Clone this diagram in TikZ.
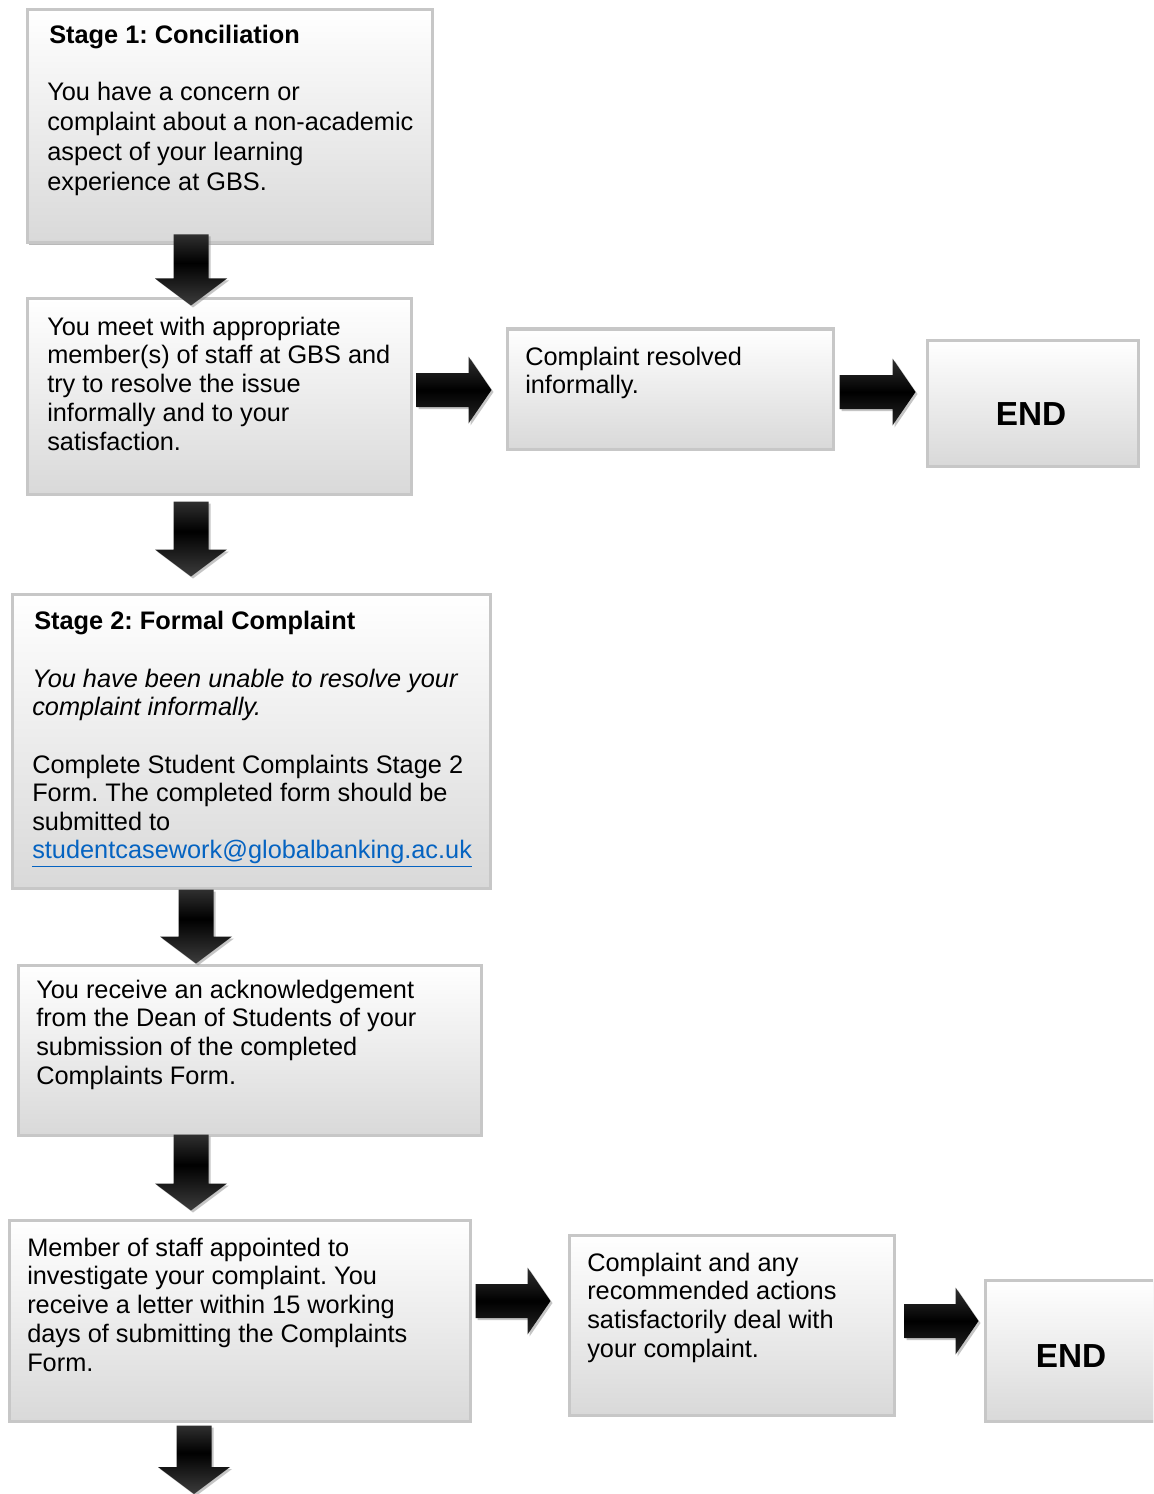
\documentclass[tikz,border=0pt]{standalone}
\usepackage{fontspec}
\setmainfont{Liberation Sans}
\frenchspacing
\usetikzlibrary{fit,shadows,calc}
\definecolor{linkblue}{RGB}{5,99,193}
\pgfdeclareverticalshading{downshade}{100bp}{color(0bp)=(black!66); color(22bp)=(black!74); color(55bp)=(black); color(100bp)=(black!58)}
\pgfdeclareverticalshading{rightshade}{100bp}{color(0bp)=(black!70); color(50bp)=(black); color(100bp)=(black!62)}
\tikzset{
  box/.style={draw=black!22, line width=2.25pt, top color=white, bottom color=black!15,
    inner sep=0pt, drop shadow={shadow xshift=1.5pt, shadow yshift=-1.8pt, fill=black!50, opacity=0.55}},
  txt/.style={font=\fontsize{19}{21.6}\selectfont, align=left, anchor=north west, inner sep=0pt},
  hdr/.style={txt, font=\fontsize{19}{21.6}\selectfont\bfseries},
  endtxt/.style={font=\fontsize{25}{30}\selectfont\bfseries, inner sep=0pt},
  darrow/.style={shading=downshade,
    drop shadow={shadow xshift=1.5pt, shadow yshift=-1.5pt, fill=black!45, opacity=0.5}},
  rarrow/.style={shading=rightshade,
    drop shadow={shadow xshift=1.5pt, shadow yshift=-1.5pt, fill=black!45, opacity=0.5}},
}
% #1 x (px), #2 from point, #3 tail shift down (px), #4 to point, #5 tip shift down (px)
\newcommand\downarr[5]{%
  \shade[darrow] let \p1=(#2), \p2=(#4), \p3=(#1,0) in
    ({\x3-13.125pt},{\y1-(#3)*0.75pt}) -- ({\x3+13.125pt},{\y1-(#3)*0.75pt})
    -- ({\x3+13.125pt},{\y2-(#5)*0.75pt+20.25pt}) -- ({\x3+27pt},{\y2-(#5)*0.75pt+20.25pt})
    -- ({\x3},{\y2-(#5)*0.75pt}) -- ({\x3-27pt},{\y2-(#5)*0.75pt+20.25pt})
    -- ({\x3-13.125pt},{\y2-(#5)*0.75pt+20.25pt}) -- cycle;}
% #1 y (px), #2 from point, #3 tail shift right (px), #4 to point, #5 tip shift right (px)
\newcommand\rightarr[5]{%
  \shade[rarrow] let \p1=(#2), \p2=(#4), \p3=(0,#1) in
    ({\x1+(#3)*0.75pt},{\y3+12.75pt}) -- ({\x2+(#5)*0.75pt-17.25pt},{\y3+12.75pt})
    -- ({\x2+(#5)*0.75pt-17.25pt},{\y3+25.125pt}) -- ({\x2+(#5)*0.75pt},{\y3})
    -- ({\x2+(#5)*0.75pt-17.25pt},{\y3-25.125pt}) -- ({\x2+(#5)*0.75pt-17.25pt},{\y3-12.75pt})
    -- ({\x1+(#3)*0.75pt},{\y3-12.75pt}) -- cycle;}
\begin{document}
\begin{tikzpicture}[x=0.75pt, y=-0.75pt]
\useasboundingbox (0,0) rectangle (1153,1494);
\fill[white] (0,0) rectangle (1153,1494);
\clip (0,0) rectangle (1153,1494);

% boxes
\node[box, fit={(27,10) (432,243)}] (b1) {};
\node[box, fit={(27,299) (411,494)}] (b2) {};
\node[box, fit={(507,329) (833,449)}] (b3) {};
\node[box, fit={(927,340) (1138,466)}] (e1) {};
\node[box, fit={(12,594) (490,888)}] (b5) {};
\node[box, fit={(18,965) (481,1135)}] (b6) {};
\node[box, fit={(9,1220) (470,1421)}] (b7) {};
\node[box, fit={(569,1235) (894,1415)}] (b8) {};
\node[box, fit={(985,1280) (1175,1421)}] (e2) {};
\coordinate (bottomend) at (194,1494);

% texts
\node[hdr] (t1h) at (49,24.5) {Stage 1: Conciliation};
\node[txt, font=\fontsize{19}{22.5}\selectfont] (t1) at (47,81.5) {You have a concern or\\complaint about a non-academic\\aspect of your learning\\experience at GBS.};
\node[txt] (t2) at (47,316.5) {You meet with appropriate\\member(s) of staff at GBS and\\try to resolve the issue\\informally and to your\\satisfaction.};
\node[txt] (t3) at (525,346.5) {Complaint resolved\\informally.};
\node[endtxt] (te1) at (1031,414) {END};
\node[hdr] (t5h) at (34,610.5) {Stage 2: Formal Complaint};
\node[txt, font=\fontsize{19}{21.4}\selectfont\itshape] (t5i) at (32,668.5) {You have been unable to resolve your\\complaint informally.};
\node[txt, font=\fontsize{19}{21.4}\selectfont] (t5) at (32,754.5) {Complete Student Complaints Stage 2\\Form. The completed form should be\\submitted to\\{\color{linkblue}\underline{studentcasework@globalbanking.ac.uk}}};
\node[txt] (t6) at (36,979.5) {You receive an acknowledgement\\from the Dean of Students of your\\submission of the completed\\Complaints Form.};
\node[txt] (t7) at (27,1237.5) {Member of staff appointed to\\investigate your complaint. You\\receive a letter within 15 working\\days of submitting the Complaints\\Form.};
\node[txt] (t8) at (587,1252.5) {Complaint and any\\recommended actions\\satisfactorily deal with\\your complaint.};
\node[endtxt] (te2) at (1071,1356) {END};

% arrows
\downarr{191}{b1.south}{-10}{b2.north}{8}
\downarr{191}{b2.south}{6}{b5.north}{-16}
\downarr{196}{b5.south}{0}{b6.north}{0}
\downarr{191}{b6.south}{-2}{b7.north}{-8}
\downarr{194}{b7.south}{3}{bottomend}{0}
\rightarr{390}{b2.east}{4}{b3.west}{-14}
\rightarr{392}{b3.east}{5}{e1.west}{-10}
\rightarr{1301}{b7.east}{4}{b8.west}{-17}
\rightarr{1321}{b8.east}{9}{e2.west}{-5}
\end{tikzpicture}
\end{document}
